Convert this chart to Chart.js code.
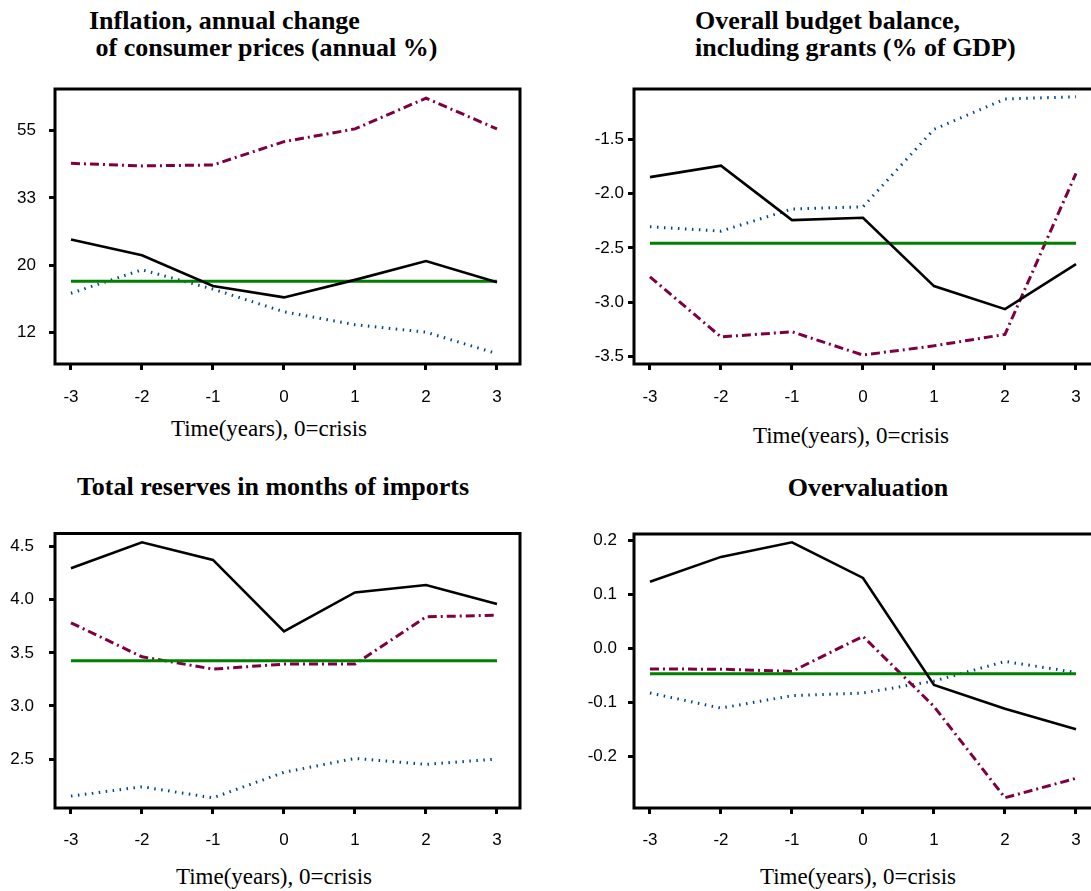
<!DOCTYPE html>
<html lang="en">
<head>
    <meta charset="UTF-8">
    <title>Crisis indicators</title>
    <script src="https://cdn.jsdelivr.net/npm/chart.js"></script>
    <style>
        html, body {
            margin: 0;
            padding: 0;
            background: #fff;
            width: 1091px;
            height: 891px;
            overflow: hidden;
            position: relative;
        }
        canvas {
            position: absolute;
        }
        .title {
            position: absolute;
            font-family: "Liberation Serif", "Times New Roman", serif;
            font-weight: bold;
            font-size: 26px;
            line-height: 27px;
            white-space: pre;
            color: #000;
        }
        .xtitle {
            position: absolute;
            width: 400px;
            text-align: center;
            font-family: "Liberation Serif", "Times New Roman", serif;
            font-size: 23px;
            line-height: 23px;
            color: #000;
        }
        .center {
            width: 500px;
            text-align: center;
        }
    </style>
</head>
<body>
    <div class="title" style="left:89px; top:7px;">Inflation, annual change
 of consumer prices (annual %)</div>
    <div class="title" style="left:695px; top:7px;">Overall budget balance,
including grants (% of GDP)</div>
    <div class="title center" style="left:23px; top:473px;">Total reserves in months of imports</div>
    <div class="title center" style="left:618px; top:474px;">Overvaluation</div>

    <div class="xtitle" style="left:69px; top:417px;">Time(years), 0=crisis</div>
    <div class="xtitle" style="left:651px; top:424px;">Time(years), 0=crisis</div>
    <div class="xtitle" style="left:74px; top:865px;">Time(years), 0=crisis</div>
    <div class="xtitle" style="left:658px; top:865px;">Time(years), 0=crisis</div>

    <canvas id="inflation" width="530" height="340" style="left:0px; top:75px;"></canvas>
    <canvas id="budget" width="545" height="340" style="left:565px; top:75px;"></canvas>
    <canvas id="reserves" width="530" height="340" style="left:0px; top:520px;"></canvas>
    <canvas id="overval" width="545" height="340" style="left:565px; top:520px;"></canvas>

    <script>
        // years around the crisis
        const years = [-3, -2, -1, 0, 1, 2, 3];

        // inflation (log scale)
        const inflSolid = [24.3, 21.6, 17.2, 15.8, 18.0, 20.7, 17.7];
        const inflMean = [17.8, 17.8, 17.8, 17.8, 17.8, 17.8, 17.8];
        const inflDashDot = [42.8, 42.0, 42.3, 50.3, 55.3, 69.5, 55.3];
        const inflDotted = [16.3, 19.4, 16.8, 14.2, 12.9, 12.2, 10.4];
        const inflTickValues = [12.18, 20.09, 33.12, 54.6];
        const inflTickLabels = ['12', '20', '33', '55'];

        // budget balance
        const budSolid = [-1.85, -1.745, -2.245, -2.223, -2.851, -3.063, -2.649];
        const budMean = [-2.458, -2.458, -2.458, -2.458, -2.458, -2.458, -2.458];
        const budDashDot = [-2.766, -3.318, -3.271, -3.485, -3.40, -3.295, -1.815];
        const budDotted = [-2.306, -2.346, -2.143, -2.122, -1.411, -1.132, -1.111];
        const budTickValues = [-3.5, -3.0, -2.5, -2.0, -1.5];
        const budTickLabels = ['-3.5', '-3.0', '-2.5', '-2.0', '-1.5'];

        // reserves
        const resSolid = [4.297, 4.541, 4.375, 3.701, 4.069, 4.139, 3.959];
        const resMean = [3.426, 3.426, 3.426, 3.426, 3.426, 3.426, 3.426];
        const resDashDot = [3.783, 3.463, 3.347, 3.394, 3.394, 3.839, 3.855];
        const resDotted = [2.151, 2.239, 2.135, 2.375, 2.506, 2.45, 2.5];
        const resTickValues = [2.5, 3.0, 3.5, 4.0, 4.5];
        const resTickLabels = ['2.5', '3.0', '3.5', '4.0', '4.5'];

        // overvaluation
        const ovSolid = [0.124, 0.170, 0.197, 0.131, -0.067, -0.111, -0.149];
        const ovMean = [-0.0463, -0.0463, -0.0463, -0.0463, -0.0463, -0.0463, -0.0463];
        const ovDashDot = [-0.0376, -0.038, -0.042, 0.0228, -0.107, -0.276, -0.24];
        const ovDotted = [-0.082, -0.110, -0.087, -0.082, -0.060, -0.0236, -0.044];
        const ovTickValues = [-0.2, -0.1, 0.0, 0.1, 0.2];
        const ovTickLabels = ['-0.2', '-0.1', '0.0', '0.1', '0.2'];

        const tickFont = { family: '"Liberation Sans", Arial, sans-serif', size: 17 };

        const toPoints = (vals) => years.map((x, i) => ({ x: x, y: vals[i] }));

        // draws the black box around the plot area
        const framePlugin = {
            id: 'frame',
            afterDraw(chart) {
                const a = chart.chartArea;
                const ctx = chart.ctx;
                ctx.save();
                ctx.strokeStyle = '#000';
                ctx.lineWidth = 3;
                ctx.strokeRect(a.left, a.top, a.right - a.left, a.bottom - a.top);
                ctx.restore();
            }
        };

        const makeChart = (id, series, cfg) => {
            const datasets = [
                { data: toPoints(series[0]), borderColor: '#000', borderWidth: 2.6 },
                { data: toPoints(series[1]), borderColor: '#008000', borderWidth: 3 },
                { data: toPoints(series[2]), borderColor: '#7f0040', borderWidth: 3, borderDash: [9, 4, 2, 4] },
                { data: toPoints(series[3]), borderColor: '#00458a', borderWidth: 3, borderDash: [1.5, 5.5] }
            ];
            datasets.forEach(d => {
                d.pointRadius = 0;
                d.tension = 0;
                d.fill = false;
            });

            return new Chart(document.getElementById(id), {
                type: 'line',
                data: { datasets: datasets },
                plugins: [framePlugin],
                options: {
                    responsive: false,
                    animation: false,
                    layout: { padding: { top: cfg.padTop, right: cfg.padRight, left: 0, bottom: 0 } },
                    plugins: {
                        legend: { display: false },
                        tooltip: { enabled: false },
                        title: { display: false }
                    },
                    scales: {
                        x: {
                            type: 'linear',
                            min: -3.225,
                            max: 3.324,
                            border: { display: false },
                            grid: { display: true, drawOnChartArea: false, drawTicks: true, tickLength: 6, tickWidth: 3, tickColor: '#000' },
                            ticks: { color: '#000', font: tickFont, padding: cfg.xPad, maxRotation: 0, autoSkip: false },
                            afterBuildTicks: (scale) => { scale.ticks = years.map(v => ({ value: v })); },
                            afterFit: (scale) => {
                                scale.height = cfg.axisH;
                                scale.paddingLeft = 0;
                                scale.paddingRight = 0;
                            }
                        },
                        y: {
                            type: cfg.yType,
                            min: cfg.yMin,
                            max: cfg.yMax,
                            border: { display: false },
                            grid: { display: true, drawOnChartArea: false, drawTicks: true, tickLength: 6, tickWidth: 3, tickColor: '#000' },
                            ticks: {
                                color: '#000',
                                font: tickFont,
                                padding: cfg.yPad,
                                autoSkip: false,
                                callback: (value, index) => cfg.yLabels[index]
                            },
                            afterBuildTicks: (scale) => { scale.ticks = cfg.yTicks.map(v => ({ value: v })); },
                            afterFit: (scale) => {
                                scale.width = cfg.axisW;
                                // keep the plot top where the padding puts it
                                scale.paddingTop = 0;
                                scale.paddingBottom = 0;
                            }
                        }
                    }
                }
            });
        };

        makeChart('inflation', [inflSolid, inflMean, inflDashDot, inflDotted], {
            yType: 'logarithmic', yMin: 9.63, yMax: 74.4, yTicks: inflTickValues, yLabels: inflTickLabels,
            yPad: 13, axisW: 55, axisH: 51, padTop: 14, padRight: 10, xPad: 17
        });
        makeChart('budget', [budSolid, budMean, budDashDot, budDotted], {
            yType: 'linear', yMin: -3.567, yMax: -1.04, yTicks: budTickValues, yLabels: budTickLabels,
            yPad: 4, axisW: 69, axisH: 51, padTop: 14, padRight: 11, xPad: 17
        });
        makeChart('reserves', [resSolid, resMean, resDashDot, resDotted], {
            yType: 'linear', yMin: 2.039, yMax: 4.624, yTicks: resTickValues, yLabels: resTickLabels,
            yPad: 15, axisW: 55, axisH: 52, padTop: 13.5, padRight: 10, xPad: 16.5
        });
        makeChart('overval', [ovSolid, ovMean, ovDashDot, ovDotted], {
            yType: 'linear', yMin: -0.295, yMax: 0.2124, yTicks: ovTickValues, yLabels: ovTickLabels,
            yPad: 11, axisW: 69, axisH: 52, padTop: 14, padRight: 11, xPad: 16.5
        });
    </script>
</body>
</html>
